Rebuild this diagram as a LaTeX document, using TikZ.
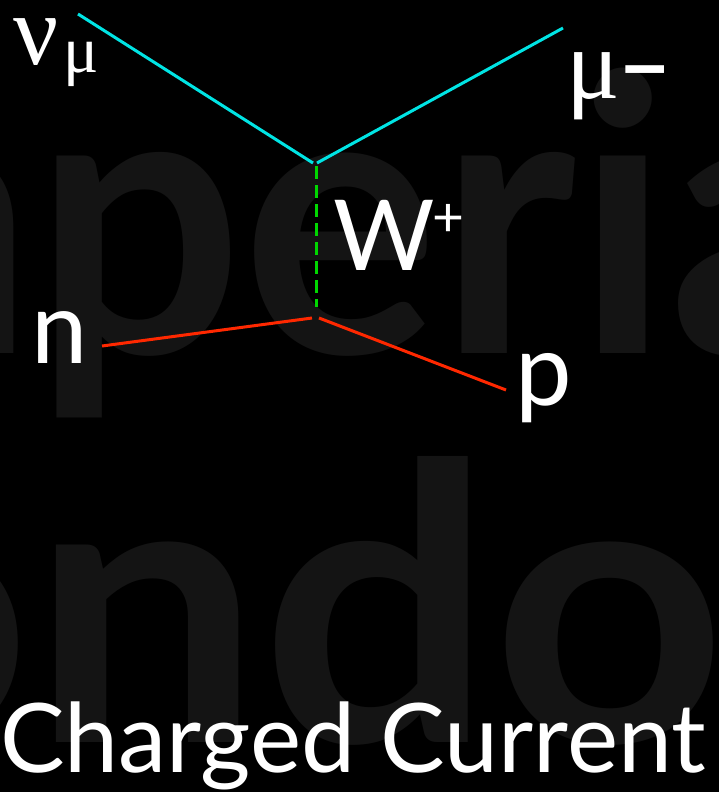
\documentclass[tikz,border=0pt]{standalone}
\usepackage{fontspec}
\usepackage{graphicx}
\newfontfamily\gill{Lato}
\newfontfamily\gillbold{Lato Bold}
\newfontfamily\greek{Liberation Serif}
\newfontfamily\dashfont{Liberation Sans Bold}
\definecolor{bgblack}{RGB}{0,0,0}
\definecolor{wmark}{RGB}{20,20,20}
\definecolor{lepton}{RGB}{0,228,228}
\definecolor{hadron}{RGB}{255,40,0}
\definecolor{boson}{RGB}{0,215,0}
\begin{document}
\begin{tikzpicture}[x=1pt,y=-1pt,
  lbl/.style={text=white,inner sep=0pt,outer sep=0pt},
  wm/.style={text=wmark,inner sep=0pt,outer sep=0pt,font=\gillbold\fontsize{385}{385}\selectfont},
  leptonline/.style={draw=lepton,line width=3pt},
  hadronline/.style={draw=hadron,line width=3pt},
  bosonline/.style={draw=boson,line width=3pt,dash pattern=on 13pt off 6pt}]
\useasboundingbox[fill=bgblack] (0,0) rectangle (719,792);
% watermark
\node[wm,anchor=base west] (wm1b) at (34,353) {\scalebox{0.955}[1]{perial}};
\node[wm,anchor=base east] (wm1a) at (wm1b.base west) {\scalebox{0.955}[1]{Im}};
\node[wm,anchor=base west] (wm2b) at (31,742) {\scalebox{1.06}[1]{ndon}};
\node[wm,anchor=base east] (wm2a) at (wm2b.base west) {\scalebox{1.06}[1]{Lo}};
% vertices and endpoints
\coordinate (nuin) at (78,14);
\coordinate (muout) at (563,28);
\coordinate (vtopL) at (313,163);
\coordinate (vtopR) at (317,163);
\coordinate (wtop) at (316,166);
\coordinate (wbot) at (316,307);
\coordinate (vbotL) at (312,318);
\coordinate (vbotR) at (319,318);
\coordinate (nin) at (102,346);
\coordinate (pout) at (506,390);
\draw[leptonline] (nuin) -- (vtopL);
\draw[leptonline] (vtopR) -- (muout);
\draw[bosonline] (wtop) -- (wbot);
\draw[hadronline] (nin) -- (vbotL);
\draw[hadronline] (vbotR) -- (pout);
% labels
\node[lbl,anchor=base west] (nulab) at (13,65) {\greek\fontsize{100}{100}\selectfont ν\kern5pt\raisebox{-7pt}{\fontsize{66}{66}\selectfont μ}};
\node[lbl,anchor=base west] (mulab) at (566,98) {\greek\fontsize{100}{100}\selectfont μ\kern4pt\raisebox{8pt}{\dashfont\fontsize{78}{78}\selectfont –}};
\node[lbl,anchor=base west] (wlab) at (333,270) {\gill\fontsize{98}{98}\selectfont W\kern-2pt\raisebox{34pt}{\fontsize{55}{55}\selectfont +}};
\node[lbl,anchor=base west] (nlab) at (31,363) {\gill\fontsize{101}{101}\selectfont n};
\node[lbl,anchor=base west] (plab) at (515,405) {\gill\fontsize{101}{101}\selectfont p};
\node[lbl,anchor=base west] (title) at (0,772) {\resizebox{706pt}{\height}{\gill\fontsize{96}{96}\selectfont Charged Current}};
\end{tikzpicture}
\end{document}
